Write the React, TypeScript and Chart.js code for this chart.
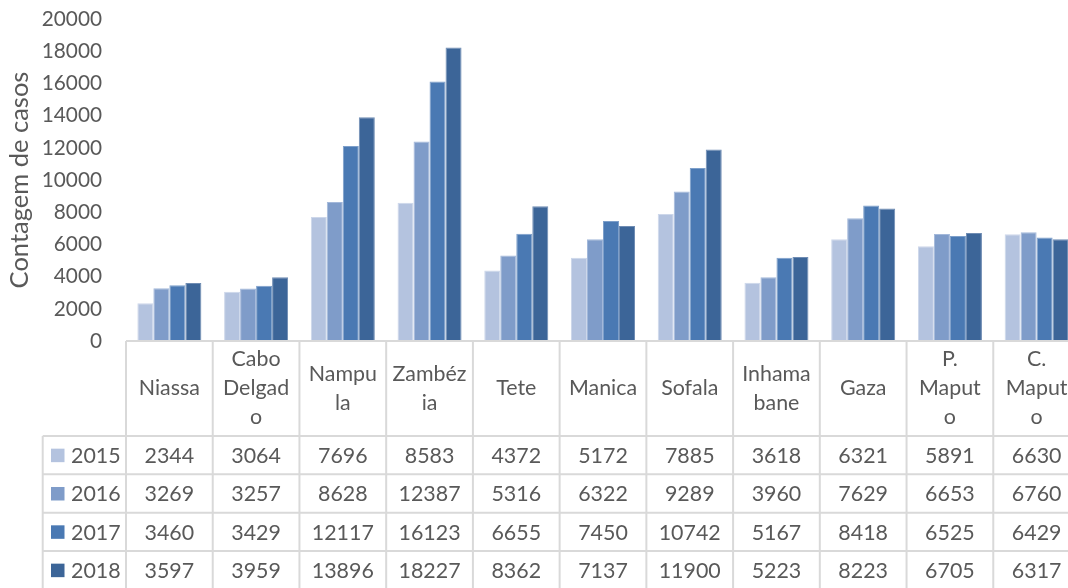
import React, { useEffect, useRef } from "react";
import { Chart, registerables } from "chart.js";

Chart.register(...registerables);

// Provinces (full names) and their wrapped header lines in the data table
const categories = [
  "Niassa", "Cabo Delgado", "Nampula", "Zambézia", "Tete", "Manica",
  "Sofala", "Inhambane", "Gaza", "P. Maputo", "C. Maputo",
];
const headerLines = [
  ["Niassa"], ["Cabo", "Delgad", "o"], ["Nampu", "la"], ["Zambéz", "ia"],
  ["Tete"], ["Manica"], ["Sofala"], ["Inhama", "bane"], ["Gaza"],
  ["P.", "Maput", "o"], ["C.", "Maput", "o"],
];

const years = ["2015", "2016", "2017", "2018"];
const cases2015 = [2344, 3064, 7696, 8583, 4372, 5172, 7885, 3618, 6321, 5891, 6630];
const cases2016 = [3269, 3257, 8628, 12387, 5316, 6322, 9289, 3960, 7629, 6653, 6760];
const cases2017 = [3460, 3429, 12117, 16123, 6655, 7450, 10742, 5167, 8418, 6525, 6429];
const cases2018 = [3597, 3959, 13896, 18227, 8362, 7137, 11900, 5223, 8223, 6705, 6317];

const yMax = 20000;
const yStep = 2000;
const yTitle = "Contagem de casos";

const seriesValues = [cases2015, cases2016, cases2017, cases2018];
const fills = ["#b4c3df", "#7f9cc9", "#4a79b3", "#3c6598"];
const edges = ["#cdd7ea", "#a3b8da", "#7d9fca", "#6f8cb3"];

const FONT = "Lato, 'Open Sans', sans-serif";
const TEXT = "#595959";
const LINE = "#d9d9d9";

const HEADER_H = 95;
const ROW_H = 38.33;
const LEGEND_LEFT = 42.7;

const tablePlugin = {
  id: "dataTable",
  afterDraw(chart: any) {
    const { ctx, chartArea, scales } = chart;
    const x = scales.x;
    const n = categories.length;
    const colW = (chartArea.right - chartArea.left) / n;
    const top = chartArea.bottom;
    const headerBottom = top + HEADER_H;
    const bottom = chart.height + 10;

    ctx.save();
    ctx.strokeStyle = LINE;
    ctx.lineWidth = 2;

    // horizontal rules
    ctx.beginPath();
    ctx.moveTo(chartArea.left, top);
    ctx.lineTo(chartArea.right, top);
    for (let r = 0; r <= years.length; r++) {
      const y = headerBottom + r * ROW_H;
      ctx.moveTo(LEGEND_LEFT, y);
      ctx.lineTo(chartArea.right, y);
    }
    // vertical rules
    for (let c = 0; c <= n; c++) {
      const xx = chartArea.left + c * colW;
      ctx.moveTo(xx, top);
      ctx.lineTo(xx, bottom);
    }
    ctx.moveTo(LEGEND_LEFT, headerBottom);
    ctx.lineTo(LEGEND_LEFT, bottom);
    ctx.stroke();

    ctx.fillStyle = TEXT;
    ctx.font = `21.4px ${FONT}`;
    ctx.textBaseline = "middle";
    ctx.textAlign = "center";

    // category headers
    const lh = 29;
    headerLines.forEach((lines, i) => {
      const cx = x.getPixelForValue(i);
      const cy = top + HEADER_H / 2;
      const start = cy - ((lines.length - 1) * lh) / 2;
      lines.forEach((t, k) => ctx.fillText(t, cx, start + k * lh));
    });

    // value rows with legend keys
    seriesValues.forEach((vals, r) => {
      const cy = headerBottom + r * ROW_H + ROW_H / 2;
      ctx.fillStyle = fills[r];
      ctx.fillRect(51, cy - 6.5, 13.5, 13.5);
      ctx.fillStyle = TEXT;
      ctx.textAlign = "left";
      ctx.fillText(years[r], 71, cy + 1);
      ctx.textAlign = "center";
      vals.forEach((v, i) => {
        ctx.fillText(String(v), x.getPixelForValue(i), cy + 1);
      });
    });
    ctx.restore();
  },
};

export default function App() {
  const ref = useRef<HTMLCanvasElement>(null);

  useEffect(() => {
    if (!ref.current) return;
    const chart = new Chart(ref.current, {
      type: "bar",
      data: {
        labels: categories,
        datasets: years.map((y, i) => ({
          label: y,
          data: seriesValues[i],
          backgroundColor: fills[i],
          borderColor: edges[i],
          borderWidth: 1,
          categoryPercentage: 0.738,
          barPercentage: 1,
        })),
      },
      options: {
        responsive: false,
        animation: false,
        devicePixelRatio: 1,
        layout: { padding: { top: 19, bottom: 247, left: 0, right: 10 } },
        plugins: {
          legend: { display: false },
          tooltip: { enabled: false },
        },
        scales: {
          x: { display: false },
          y: {
            min: 0,
            max: yMax,
            ticks: {
              stepSize: yStep,
              padding: 24,
              color: TEXT,
              font: { family: FONT, size: 20.8 },
              callback: (v: any) => String(v),
            },
            grid: { display: false, drawTicks: false },
            border: { display: false },
            title: {
              display: true,
              text: yTitle,
              color: TEXT,
              font: { family: FONT, size: 25.5 },
              padding: { top: 4, bottom: 0 },
            },
            afterFit: (scale: any) => {
              scale.width = 126;
              scale.paddingTop = 0;
              scale.paddingBottom = 0;
            },
          },
        },
      },
      plugins: [tablePlugin],
    });
    return () => chart.destroy();
  }, []);

  return (
    <div
      style={{
        position: "absolute",
        left: 0,
        top: 0,
        width: 1068,
        height: 588,
        overflow: "hidden",
        background: "#fff",
      }}
    >
      <canvas ref={ref} width={1090} height={588} style={{ width: 1090, height: 588, display: "block" }} />
    </div>
  );
}
